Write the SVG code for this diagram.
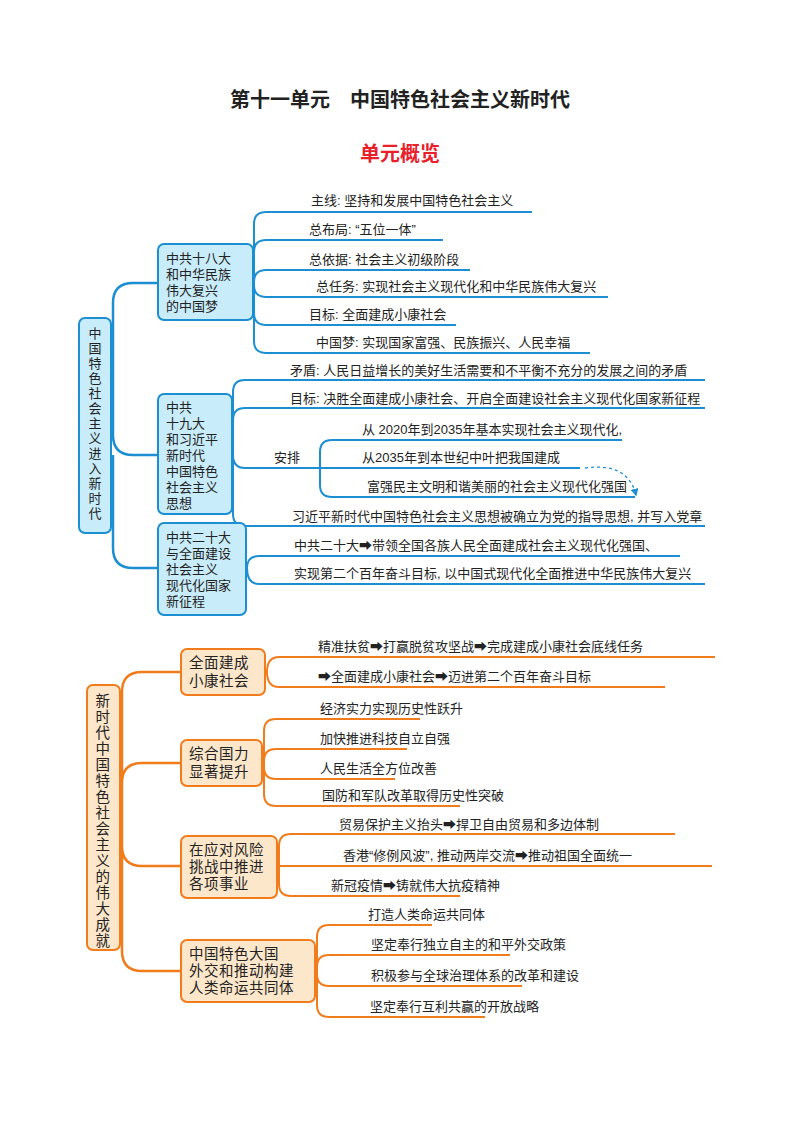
<svg xmlns="http://www.w3.org/2000/svg" width="800" height="1132" viewBox="0 0 800 1132">
<style>
text{font-family:"Liberation Sans","Noto Sans CJK SC",sans-serif;fill:#222}
.t{font-size:20px;font-weight:bold}
.r{fill:#e8202a}
.b{font-size:13px}
.nt{font-size:13px}
.ot{font-size:14.5px;letter-spacing:0.5px}
.bn{fill:#c9ecfa;stroke:#1b8fd2;stroke-width:2}
.on{fill:#fde7cb;stroke:#f07c1c;stroke-width:2}
.bl{fill:none;stroke:#1b8fd2;stroke-width:2}
.ol{fill:none;stroke:#f07c1c;stroke-width:2}
</style>
<defs><marker id="ah" viewBox="0 0 10 10" refX="8" refY="5" markerWidth="6" markerHeight="6" orient="auto"><path d="M0,0 L10,5 L0,10 z" fill="#1b8fd2"/></marker></defs>
<rect width="800" height="1132" fill="#fff"/>
<text class="t" x="400" y="107" text-anchor="middle">第十一单元　中国特色社会主义新时代</text>
<text class="t r" x="400" y="161" text-anchor="middle">单元概览</text>

<g id="connectors">
<path class="bl" d="M111,425 H113 V303 Q113,283 133,283 H158 M113,425 V435 Q113,455 133,455 H158 M113,455 V548 Q113,568 133,568 H158" style="stroke-width:2.5"/>
<path class="bl" d="M254,282 V224 Q254,212 266,212 H532 M254,282 V252 Q254,240 266,240 H443 M254,282 Q254,270 266,270 H470 M254,282 V285 Q254,297 266,297 H608 M254,282 V313 Q254,325 266,325 H456 M254,282 V341 Q254,353 266,353 H590"/>
<path class="bl" d="M233,455 V392 Q233,380 245,380 H705 M233,455 V420 Q233,408 245,408 H705 M233,455 Q233,468 245,468 H320 M233,455 V514 Q233,526 245,526 H705"/>
<path class="bl" d="M320,468 V452 Q320,440 332,440 H622 M320,468 H580 M320,468 V485 Q320,497 332,497 H635"/>
<path d="M585,468 Q628,462 636,495" fill="none" stroke="#1b8fd2" stroke-width="1.3" stroke-dasharray="3,3" marker-end="url(#ah)"/>
<path class="bl" d="M247,568 Q247,556 259,556 H680 M247,568 Q247,584 259,584 H705"/>
<path class="ol" d="M120,818 H122 V692 Q122,672 142,672 H181 M122,818 V783 Q122,763 142,763 H181 M122,818 V846 Q122,866 142,866 H181 M122,818 V951 Q122,971 142,971 H181" style="stroke-width:2.5"/>
<path class="ol" d="M267,672 Q267,657 279,657 H715 M267,672 Q267,687 279,687 H665"/>
<path class="ol" d="M264,763 V731 Q264,719 276,719 H420 M264,763 V761 Q264,749 276,749 H407 M264,763 V767 Q264,779 276,779 H395 M264,763 V794 Q264,806 276,806 H460"/>
<path class="ol" d="M279,866 V846 Q279,834 291,834 H675 M279,866 H712 M279,866 V884 Q279,896 291,896 H460"/>
<path class="ol" d="M317,971 V937 Q317,925 329,925 H432 M317,971 V967 Q317,955 329,955 H510 M317,971 V974 Q317,986 329,986 H522 M317,971 V1005 Q317,1017 329,1017 H485"/>
</g>

<g id="root-blue"><rect class="bn" x="79" y="318" width="32" height="215" rx="6"/>
<text class="nt" text-anchor="middle"><tspan x="95" y="338">中</tspan><tspan x="95" y="353">国</tspan><tspan x="95" y="368">特</tspan><tspan x="95" y="383">色</tspan><tspan x="95" y="398">社</tspan><tspan x="95" y="413">会</tspan><tspan x="95" y="428">主</tspan><tspan x="95" y="443">义</tspan><tspan x="95" y="458">进</tspan><tspan x="95" y="473">入</tspan><tspan x="95" y="488">新</tspan><tspan x="95" y="503">时</tspan><tspan x="95" y="518">代</tspan></text></g>
<g id="node1"><rect class="bn" x="158" y="244" width="95" height="76" rx="6"/>
<text class="nt"><tspan x="166" y="263">中共十八大</tspan><tspan x="166" y="279">和中华民族</tspan><tspan x="166" y="295">伟大复兴</tspan><tspan x="166" y="311">的中国梦</tspan></text></g>
<g id="node2"><rect class="bn" x="158" y="394" width="74" height="120" rx="6"/>
<text class="nt"><tspan x="166" y="412">中共</tspan><tspan x="166" y="428">十九大</tspan><tspan x="166" y="444">和习近平</tspan><tspan x="166" y="460">新时代</tspan><tspan x="166" y="476">中国特色</tspan><tspan x="166" y="492">社会主义</tspan><tspan x="166" y="508">思想</tspan></text></g>
<g id="node3"><rect class="bn" x="158" y="523" width="88" height="92" rx="6"/>
<text class="nt"><tspan x="166" y="542">中共二十大</tspan><tspan x="166" y="558">与全面建设</tspan><tspan x="166" y="574">社会主义</tspan><tspan x="166" y="590">现代化国家</tspan><tspan x="166" y="606">新征程</tspan></text></g>

<g id="blue-labels">
<text class="b" x="311" y="205">主线: 坚持和发展中国特色社会主义</text>
<text class="b" x="309" y="234">总布局: “五位一体”</text>
<text class="b" x="309" y="264">总依据: 社会主义初级阶段</text>
<text class="b" x="316" y="291">总任务: 实现社会主义现代化和中华民族伟大复兴</text>
<text class="b" x="309" y="319">目标: 全面建成小康社会</text>
<text class="b" x="316" y="347">中国梦: 实现国家富强、民族振兴、人民幸福</text>
<text class="b" x="290" y="375">矛盾: 人民日益增长的美好生活需要和不平衡不充分的发展之间的矛盾</text>
<text class="b" x="290" y="403">目标: 决胜全面建成小康社会、开启全面建设社会主义现代化国家新征程</text>
<text class="b" x="274" y="462">安排</text>
<text class="b" x="362" y="434">从  2020年到2035年基本实现社会主义现代化,</text>
<text class="b" x="362" y="462">从2035年到本世纪中叶把我国建成</text>
<text class="b" x="367" y="491">富强民主文明和谐美丽的社会主义现代化强国</text>
<text class="b" x="292" y="521">习近平新时代中国特色社会主义思想被确立为党的指导思想, 并写入党章</text>
<text class="b" x="294" y="550">中共二十大➡带领全国各族人民全面建成社会主义现代化强国、</text>
<text class="b" x="294" y="578">实现第二个百年奋斗目标, 以中国式现代化全面推进中华民族伟大复兴</text>
</g>

<g id="root-orange"><rect class="on" x="87" y="685" width="33" height="265" rx="6"/>
<text class="ot" text-anchor="middle"><tspan x="103" y="706">新</tspan><tspan x="103" y="722">时</tspan><tspan x="103" y="738">代</tspan><tspan x="103" y="754">中</tspan><tspan x="103" y="770">国</tspan><tspan x="103" y="786">特</tspan><tspan x="103" y="802">色</tspan><tspan x="103" y="818">社</tspan><tspan x="103" y="834">会</tspan><tspan x="103" y="850">主</tspan><tspan x="103" y="866">义</tspan><tspan x="103" y="882">的</tspan><tspan x="103" y="898">伟</tspan><tspan x="103" y="914">大</tspan><tspan x="103" y="930">成</tspan><tspan x="103" y="946">就</tspan></text></g>
<g id="nodeA"><rect class="on" x="181" y="649" width="84" height="46" rx="6"/>
<text class="ot"><tspan x="189" y="668">全面建成</tspan><tspan x="189" y="686">小康社会</tspan></text></g>
<g id="nodeB"><rect class="on" x="181" y="740" width="81" height="46" rx="6"/>
<text class="ot"><tspan x="189" y="759">综合国力</tspan><tspan x="189" y="777">显著提升</tspan></text></g>
<g id="nodeC"><rect class="on" x="181" y="836" width="96" height="62" rx="6"/>
<text class="ot"><tspan x="189" y="855">在应对风险</tspan><tspan x="189" y="872">挑战中推进</tspan><tspan x="189" y="889">各项事业</tspan></text></g>
<g id="nodeD"><rect class="on" x="181" y="940" width="134" height="62" rx="6"/>
<text class="ot"><tspan x="189" y="959">中国特色大国</tspan><tspan x="189" y="976">外交和推动构建</tspan><tspan x="189" y="993">人类命运共同体</tspan></text></g>

<g id="orange-labels">
<text class="b" x="318" y="651">精准扶贫➡打赢脱贫攻坚战➡完成建成小康社会底线任务</text>
<text class="b" x="318" y="681">➡全面建成小康社会➡迈进第二个百年奋斗目标</text>
<text class="b" x="320" y="713">经济实力实现历史性跃升</text>
<text class="b" x="320" y="743">加快推进科技自立自强</text>
<text class="b" x="320" y="773">人民生活全方位改善</text>
<text class="b" x="322" y="800">国防和军队改革取得历史性突破</text>
<text class="b" x="339" y="829">贸易保护主义抬头➡捍卫自由贸易和多边体制</text>
<text class="b" x="343" y="860">香港“修例风波”, 推动两岸交流➡推动祖国全面统一</text>
<text class="b" x="331" y="890">新冠疫情➡铸就伟大抗疫精神</text>
<text class="b" x="368" y="919">打造人类命运共同体</text>
<text class="b" x="371" y="949">坚定奉行独立自主的和平外交政策</text>
<text class="b" x="371" y="980">积极参与全球治理体系的改革和建设</text>
<text class="b" x="370" y="1011">坚定奉行互利共赢的开放战略</text>
</g>
</svg>
